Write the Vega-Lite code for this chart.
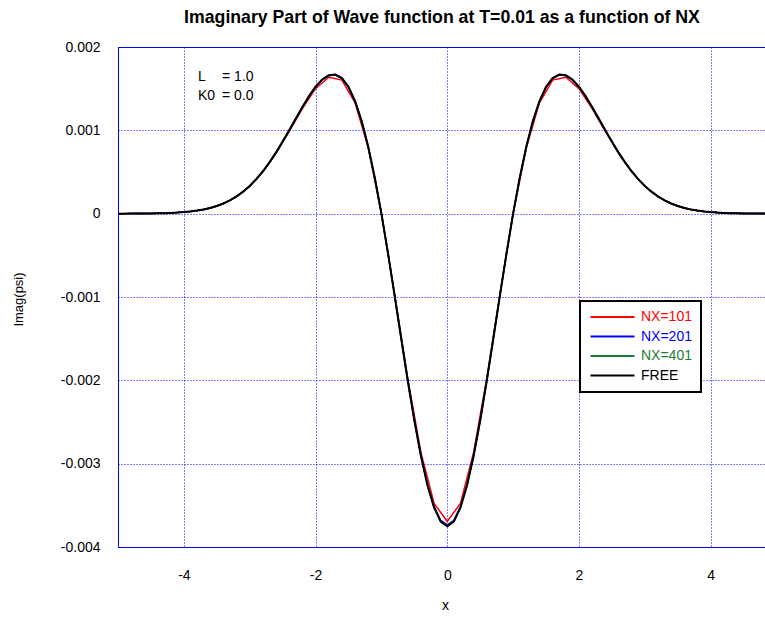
{
  "$schema": "https://vega.github.io/schema/vega-lite/v6.json",
  "width": 648,
  "height": 500,
  "autosize": "none",
  "padding": {"left": 118, "top": 47, "right": 0, "bottom": 70},
  "background": "white",
  "config": {
    "font": "Liberation Sans",
    "view": {"stroke": "#0000ff", "strokeWidth": 1}
  },
  "title": {
    "text": "Imaginary Part of Wave function at T=0.01 as a function of NX",
    "fontSize": 17.7,
    "fontWeight": "bold",
    "anchor": "middle",
    "offset": 13,
    "color": "black"
  },
  "datasets": {
    "curves": [
      {"x": -5.0, "NX=101": 0, "NX=201": 0, "NX=401": 0, "FREE": 0.0000003},
      {"x": -4.9, "NX=201": 0.0000005, "NX=401": 0.0000005, "FREE": 0.0000005},
      {"x": -4.8, "NX=101": 0.000001, "NX=201": 0.000001, "NX=401": 0.000001, "FREE": 0.000001},
      {"x": -4.7, "NX=201": 0.000001, "NX=401": 0.000001, "FREE": 0.000001},
      {"x": -4.6, "NX=101": 0.000002, "NX=201": 0.000002, "NX=401": 0.000002, "FREE": 0.000002},
      {"x": -4.5, "NX=201": 0.000003, "NX=401": 0.000003, "FREE": 0.000003},
      {"x": -4.4, "NX=101": 0.000004, "NX=201": 0.000004, "NX=401": 0.000004, "FREE": 0.000004},
      {"x": -4.3, "NX=201": 0.000006, "NX=401": 0.000006, "FREE": 0.000006},
      {"x": -4.2, "NX=101": 0.000009, "NX=201": 0.000009, "NX=401": 0.000009, "FREE": 0.000009},
      {"x": -4.1, "NX=201": 0.000013, "NX=401": 0.000013, "FREE": 0.000013},
      {"x": -4.0, "NX=101": 0.000019, "NX=201": 0.000019, "NX=401": 0.000019, "FREE": 0.000019},
      {"x": -3.9, "NX=201": 0.000027, "NX=401": 0.000027, "FREE": 0.000027},
      {"x": -3.8, "NX=101": 0.000036, "NX=201": 0.000037, "NX=401": 0.000037, "FREE": 0.000037},
      {"x": -3.7, "NX=201": 0.000051, "NX=401": 0.000051, "FREE": 0.000051},
      {"x": -3.6, "NX=101": 0.000068, "NX=201": 0.000069, "NX=401": 0.000069, "FREE": 0.000069},
      {"x": -3.5, "NX=201": 0.000092, "NX=401": 0.000092, "FREE": 0.000092},
      {"x": -3.4, "NX=101": 0.000120, "NX=201": 0.000122, "NX=401": 0.000122, "FREE": 0.000122},
      {"x": -3.3, "NX=201": 0.000159, "NX=401": 0.000160, "FREE": 0.000160},
      {"x": -3.2, "NX=101": 0.000204, "NX=201": 0.000206, "NX=401": 0.000207, "FREE": 0.000207},
      {"x": -3.1, "NX=201": 0.000263, "NX=401": 0.000264, "FREE": 0.000264},
      {"x": -3.0, "NX=101": 0.000328, "NX=201": 0.000332, "NX=401": 0.000333, "FREE": 0.000333},
      {"x": -2.9, "NX=201": 0.000413, "NX=401": 0.000415, "FREE": 0.000415},
      {"x": -2.8, "NX=101": 0.000501, "NX=201": 0.000507, "NX=401": 0.000508, "FREE": 0.000509},
      {"x": -2.7, "NX=201": 0.000614, "NX=401": 0.000615, "FREE": 0.000616},
      {"x": -2.6, "NX=101": 0.000724, "NX=201": 0.000732, "NX=401": 0.000734, "FREE": 0.000735},
      {"x": -2.5, "NX=201": 0.000862, "NX=401": 0.000864, "FREE": 0.000865},
      {"x": -2.4, "NX=101": 0.000987, "NX=201": 0.000998, "NX=401": 0.001001, "FREE": 0.001002},
      {"x": -2.3, "NX=201": 0.001137, "NX=401": 0.001141, "FREE": 0.001142},
      {"x": -2.2, "NX=101": 0.001261, "NX=201": 0.001275, "NX=401": 0.001279, "FREE": 0.001280},
      {"x": -2.1, "NX=201": 0.001404, "NX=401": 0.001409, "FREE": 0.001410},
      {"x": -2.0, "NX=101": 0.001500, "NX=201": 0.001517, "NX=401": 0.001521, "FREE": 0.001523},
      {"x": -1.9, "NX=201": 0.001604, "NX=401": 0.001608, "FREE": 0.001610},
      {"x": -1.8, "NX=101": 0.001637, "NX=201": 0.001655, "NX=401": 0.001660, "FREE": 0.001662},
      {"x": -1.7, "NX=201": 0.001664, "NX=401": 0.001669, "FREE": 0.001671},
      {"x": -1.6, "NX=101": 0.001603, "NX=201": 0.001620, "NX=401": 0.001625, "FREE": 0.001627},
      {"x": -1.5, "NX=201": 0.001516, "NX=401": 0.001520, "FREE": 0.001522},
      {"x": -1.4, "NX=101": 0.001331, "NX=201": 0.001346, "NX=401": 0.001350, "FREE": 0.001351},
      {"x": -1.3, "NX=201": 0.001108, "NX=401": 0.001111, "FREE": 0.001112},
      {"x": -1.2, "NX=101": 0.000791, "NX=201": 0.000800, "NX=401": 0.000802, "FREE": 0.000803},
      {"x": -1.1, "NX=201": 0.000428, "NX=401": 0.000430, "FREE": 0.000430},
      {"x": -1.0, "NX=101": 0, "NX=201": 0, "NX=401": 0, "FREE": 0},
      {"x": -0.9, "NX=201": -0.000473, "NX=401": -0.000475, "FREE": -0.000475},
      {"x": -0.8, "NX=101": -0.000965, "NX=201": -0.000976, "NX=401": -0.000979, "FREE": -0.000980},
      {"x": -0.7, "NX=201": -0.001491, "NX=401": -0.001496, "FREE": -0.001497},
      {"x": -0.6, "NX=101": -0.001975, "NX=201": -0.001997, "NX=401": -0.002003, "FREE": -0.002005},
      {"x": -0.5, "NX=201": -0.002472, "NX=401": -0.002480, "FREE": -0.002482},
      {"x": -0.4, "NX=101": -0.002864, "NX=201": -0.002896, "NX=401": -0.002905, "FREE": -0.002908},
      {"x": -0.3, "NX=201": -0.003249, "NX=401": -0.003259, "FREE": -0.003262},
      {"x": -0.2, "NX=101": -0.003476, "NX=201": -0.003515, "NX=401": -0.003525, "FREE": -0.003529},
      {"x": -0.1, "NX=201": -0.003679, "NX=401": -0.003690, "FREE": -0.003694},
      {"x": 0.0, "NX=101": -0.003694, "NX=201": -0.003735, "NX=401": -0.003746, "FREE": -0.003750},
      {"x": 0.1, "NX=201": -0.003679, "NX=401": -0.003690, "FREE": -0.003694},
      {"x": 0.2, "NX=101": -0.003476, "NX=201": -0.003515, "NX=401": -0.003525, "FREE": -0.003529},
      {"x": 0.3, "NX=201": -0.003249, "NX=401": -0.003259, "FREE": -0.003262},
      {"x": 0.4, "NX=101": -0.002864, "NX=201": -0.002896, "NX=401": -0.002905, "FREE": -0.002908},
      {"x": 0.5, "NX=201": -0.002472, "NX=401": -0.002480, "FREE": -0.002482},
      {"x": 0.6, "NX=101": -0.001975, "NX=201": -0.001997, "NX=401": -0.002003, "FREE": -0.002005},
      {"x": 0.7, "NX=201": -0.001491, "NX=401": -0.001496, "FREE": -0.001497},
      {"x": 0.8, "NX=101": -0.000965, "NX=201": -0.000976, "NX=401": -0.000979, "FREE": -0.000980},
      {"x": 0.9, "NX=201": -0.000473, "NX=401": -0.000475, "FREE": -0.000475},
      {"x": 1.0, "NX=101": 0, "NX=201": 0, "NX=401": 0, "FREE": 0},
      {"x": 1.1, "NX=201": 0.000428, "NX=401": 0.000430, "FREE": 0.000430},
      {"x": 1.2, "NX=101": 0.000791, "NX=201": 0.000800, "NX=401": 0.000802, "FREE": 0.000803},
      {"x": 1.3, "NX=201": 0.001108, "NX=401": 0.001111, "FREE": 0.001112},
      {"x": 1.4, "NX=101": 0.001331, "NX=201": 0.001346, "NX=401": 0.001350, "FREE": 0.001351},
      {"x": 1.5, "NX=201": 0.001516, "NX=401": 0.001520, "FREE": 0.001522},
      {"x": 1.6, "NX=101": 0.001603, "NX=201": 0.001620, "NX=401": 0.001625, "FREE": 0.001627},
      {"x": 1.7, "NX=201": 0.001664, "NX=401": 0.001669, "FREE": 0.001671},
      {"x": 1.8, "NX=101": 0.001637, "NX=201": 0.001655, "NX=401": 0.001660, "FREE": 0.001662},
      {"x": 1.9, "NX=201": 0.001604, "NX=401": 0.001608, "FREE": 0.001610},
      {"x": 2.0, "NX=101": 0.001500, "NX=201": 0.001517, "NX=401": 0.001521, "FREE": 0.001523},
      {"x": 2.1, "NX=201": 0.001404, "NX=401": 0.001409, "FREE": 0.001410},
      {"x": 2.2, "NX=101": 0.001261, "NX=201": 0.001275, "NX=401": 0.001279, "FREE": 0.001280},
      {"x": 2.3, "NX=201": 0.001137, "NX=401": 0.001141, "FREE": 0.001142},
      {"x": 2.4, "NX=101": 0.000987, "NX=201": 0.000998, "NX=401": 0.001001, "FREE": 0.001002},
      {"x": 2.5, "NX=201": 0.000862, "NX=401": 0.000864, "FREE": 0.000865},
      {"x": 2.6, "NX=101": 0.000724, "NX=201": 0.000732, "NX=401": 0.000734, "FREE": 0.000735},
      {"x": 2.7, "NX=201": 0.000614, "NX=401": 0.000615, "FREE": 0.000616},
      {"x": 2.8, "NX=101": 0.000501, "NX=201": 0.000507, "NX=401": 0.000508, "FREE": 0.000509},
      {"x": 2.9, "NX=201": 0.000413, "NX=401": 0.000415, "FREE": 0.000415},
      {"x": 3.0, "NX=101": 0.000328, "NX=201": 0.000332, "NX=401": 0.000333, "FREE": 0.000333},
      {"x": 3.1, "NX=201": 0.000263, "NX=401": 0.000264, "FREE": 0.000264},
      {"x": 3.2, "NX=101": 0.000204, "NX=201": 0.000206, "NX=401": 0.000207, "FREE": 0.000207},
      {"x": 3.3, "NX=201": 0.000159, "NX=401": 0.000160, "FREE": 0.000160},
      {"x": 3.4, "NX=101": 0.000120, "NX=201": 0.000122, "NX=401": 0.000122, "FREE": 0.000122},
      {"x": 3.5, "NX=201": 0.000092, "NX=401": 0.000092, "FREE": 0.000092},
      {"x": 3.6, "NX=101": 0.000068, "NX=201": 0.000069, "NX=401": 0.000069, "FREE": 0.000069},
      {"x": 3.7, "NX=201": 0.000051, "NX=401": 0.000051, "FREE": 0.000051},
      {"x": 3.8, "NX=101": 0.000036, "NX=201": 0.000037, "NX=401": 0.000037, "FREE": 0.000037},
      {"x": 3.9, "NX=201": 0.000027, "NX=401": 0.000027, "FREE": 0.000027},
      {"x": 4.0, "NX=101": 0.000019, "NX=201": 0.000019, "NX=401": 0.000019, "FREE": 0.000019},
      {"x": 4.1, "NX=201": 0.000013, "NX=401": 0.000013, "FREE": 0.000013},
      {"x": 4.2, "NX=101": 0.000009, "NX=201": 0.000009, "NX=401": 0.000009, "FREE": 0.000009},
      {"x": 4.3, "NX=201": 0.000006, "NX=401": 0.000006, "FREE": 0.000006},
      {"x": 4.4, "NX=101": 0.000004, "NX=201": 0.000004, "NX=401": 0.000004, "FREE": 0.000004},
      {"x": 4.5, "NX=201": 0.000003, "NX=401": 0.000003, "FREE": 0.000003},
      {"x": 4.6, "NX=101": 0.000002, "NX=201": 0.000002, "NX=401": 0.000002, "FREE": 0.000002},
      {"x": 4.7, "NX=201": 0.000001, "NX=401": 0.000001, "FREE": 0.000001},
      {"x": 4.8, "NX=101": 0.000001, "NX=201": 0.000001, "NX=401": 0.000001, "FREE": 0.000001},
      {"x": 4.9, "NX=201": 0.0000005, "NX=401": 0.0000005, "FREE": 0.0000005},
      {"x": 5.0, "NX=101": 0, "NX=201": 0, "NX=401": 0, "FREE": 0.0000003}
    ],
    "notes": [
      {"x": -3.785, "y": 0.001641, "label": "L"},
      {"x": -3.42, "y": 0.001641, "label": "= 1.0"},
      {"x": -3.785, "y": 0.001413, "label": "K0"},
      {"x": -3.42, "y": 0.001413, "label": "= 0.0"}
    ]
  },
  "layer": [
    {
      "data": {"name": "curves"},
      "transform": [
        {"fold": ["NX=101", "NX=201", "NX=401"], "as": ["series", "value"]},
        {"filter": "isValid(datum.value)"}
      ],
      "mark": {"type": "line", "strokeWidth": 1.5, "clip": true},
      "encoding": {
        "x": {
          "field": "x",
          "type": "quantitative",
          "scale": {"domain": [-5, 4.84], "nice": false, "zero": false},
          "axis": {
            "title": "x",
            "values": [-4, -2, 0, 2, 4],
            "labelExpr": "datum.value < 0 ? '-' + format(-datum.value, 'd') : format(datum.value, 'd')",
            "grid": true,
            "gridColor": "#0000ff",
            "gridDash": [1, 2],
            "gridOpacity": 1,
            "domainColor": "#0000ff",
            "ticks": false,
            "labelPadding": 21,
            "labelFontSize": 14,
            "labelColor": "black",
            "titleFontSize": 14,
            "titleFontWeight": "normal",
            "titleColor": "black",
            "titleX": 327,
            "titleY": 58,
            "titleBaseline": "middle"
          }
        },
        "y": {
          "field": "value",
          "type": "quantitative",
          "scale": {"domain": [-0.004, 0.002], "nice": false, "zero": false},
          "axis": {
            "title": "Imag(psi)",
            "values": [-0.004, -0.003, -0.002, -0.001, 0, 0.001, 0.002],
            "labelExpr": "datum.value == 0 ? '0' : (datum.value < 0 ? '-' : '') + format(abs(datum.value), '.3f')",
            "grid": true,
            "gridColor": "#0000ff",
            "gridDash": [1, 2],
            "gridOpacity": 1,
            "domainColor": "#0000ff",
            "ticks": false,
            "labelPadding": 18,
            "labelFontSize": 14,
            "labelColor": "black",
            "titleFontSize": 13,
            "titleFontWeight": "normal",
            "titleColor": "black",
            "titleX": -100,
            "titleY": 252,
            "titleBaseline": "middle"
          }
        },
        "color": {
          "field": "series",
          "type": "nominal",
          "scale": {
            "domain": ["NX=101", "NX=201", "NX=401", "FREE"],
            "range": ["#ff0000", "#0000ff", "#1e7b34", "#000000"]
          },
          "legend": {
            "title": null,
            "orient": "none",
            "legendX": 462,
            "legendY": 254,
            "strokeColor": "black",
            "fillColor": "white",
            "padding": 9,
            "symbolType": "M-1,0H7",
            "symbolSize": 121,
            "symbolStrokeWidth": 2,
            "symbolFillColor": "transparent",
            "labelFontSize": 14,
            "labelOffset": 38,
            "rowPadding": 5.5,
            "encode": {
              "labels": {"update": {"fill": {"scale": "color", "field": "value"}}},
              "legend": {"update": {"strokeWidth": {"value": 2}}}
            }
          }
        }
      }
    },
    {
      "data": {"name": "curves"},
      "transform": [
        {"fold": ["FREE"], "as": ["series", "value"]},
        {"filter": "isValid(datum.value)"}
      ],
      "mark": {"type": "line", "strokeWidth": 2, "clip": true},
      "encoding": {
        "x": {"field": "x", "type": "quantitative"},
        "y": {"field": "value", "type": "quantitative"},
        "color": {"field": "series", "type": "nominal"}
      }
    },
    {
      "data": {"name": "notes"},
      "mark": {"type": "text", "align": "left", "baseline": "middle", "fontSize": 14, "color": "black"},
      "encoding": {
        "x": {"field": "x", "type": "quantitative"},
        "y": {"field": "y", "type": "quantitative"},
        "text": {"field": "label"}
      }
    }
  ]
}
